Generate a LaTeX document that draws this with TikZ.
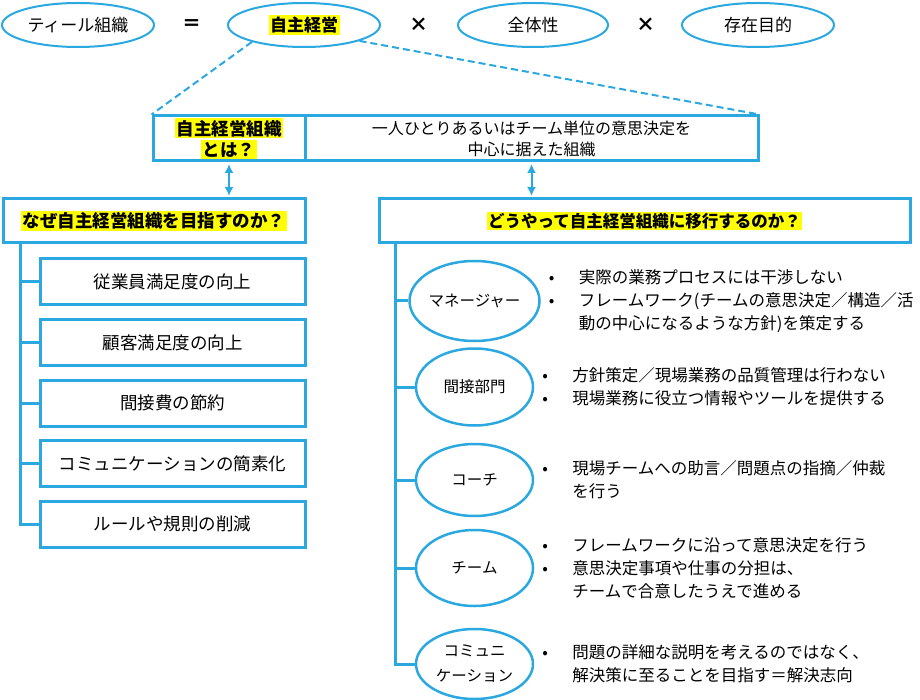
\documentclass[tikz,border=0pt]{standalone}
\usepackage{fontspec}
\setmainfont{Noto Sans CJK JP}
\usetikzlibrary{arrows.meta,shapes.geometric}
\definecolor{tealBlue}  {HTML}{2BA8E0}
\definecolor{markYellow}{HTML}{FFFF00}
\setlength{\fboxsep}{1.5pt}
\newcommand{\marker}[1]{\colorbox{markYellow}{\bfseries #1}}
\newcommand{\itm}[1]{\makebox[30pt][l]{•}#1}
\newcommand{\cont}[1]{\hspace*{30pt}#1}
\tikzset{
  oval/.style={ellipse,draw=tealBlue,line width=2pt,minimum width=152pt,minimum height=44pt,
    inner sep=0pt,font=\fontsize{17}{20}\selectfont},
  sign/.style={font=\fontsize{19}{20}\selectfont\bfseries},
  headbox/.style={rectangle,draw=tealBlue,line width=3pt,minimum height=44pt,inner sep=0pt,
    align=center,font=\fontsize{17.5}{21}\selectfont},
  whybox/.style={rectangle,draw=tealBlue,line width=3pt,minimum width=265pt,minimum height=46pt,
    inner sep=0pt,font=\fontsize{17.5}{21}\selectfont},
  role/.style={ellipse,draw=tealBlue,line width=2.5pt,minimum width=117pt,inner sep=0pt,
    align=center,font=\fontsize{15.5}{25}\selectfont},
  bullets/.style={anchor=west,inner sep=0pt,align=left,font=\fontsize{16.5}{23}\selectfont},
  trunk/.style={draw=tealBlue,line width=3pt},
  dashline/.style={draw=tealBlue,line width=2pt,dash pattern=on 7pt off 4pt},
  dblarrow/.style={{Latex[length=9pt,width=9pt]}-{Latex[length=9pt,width=9pt]},draw=tealBlue,
    line width=2pt,shorten <=1.5pt,shorten >=1.5pt},
}
\begin{document}
\begin{tikzpicture}[x=1pt,y=-1pt]
\useasboundingbox (0,0) rectangle (920,700);

\node[oval] (teal) at (78,25) {ティール組織};
\node[sign] (eq) at (192,25) {＝};
\node[oval] (jishu) at (304,25) {\marker{自主経営}};
\node[sign] (times1) at (419,25) {×};
\node[oval,minimum width=150pt] (zentai) at (533,25) {全体性};
\node[sign] (times2) at (646,25) {×};
\node[oval] (sonzai) at (758,25) {存在目的};

\node[headbox,minimum width=152pt,minimum height=45pt] (whatbox) at (229,138.5)
  {\marker{自主経営組織}\\\marker{とは？}};
\node[headbox,minimum width=453pt,minimum height=45pt,font=\fontsize{16}{21}\selectfont] (defbox) at (531.5,138.5)
  {一人ひとりあるいはチーム単位の意思決定を\\中心に据えた組織};

\draw[dashline] (jishu.198) -- (whatbox.north west);
\draw[dashline] (jishu.344) -- (defbox.north east);

\node[headbox,minimum width=302pt] (whyhead) at (154,221) {\marker{なぜ自主経営組織を目指すのか？}};
\node[headbox,minimum width=531pt,font=\fontsize{16.5}{21}\selectfont] (howhead) at (644.5,221)
  {\marker{どうやって自主経営組織に移行するのか？}};

\draw[dblarrow] (whatbox.south) -- (whatbox.south |- whyhead.north);
\draw[dblarrow] (defbox.south) -- (defbox.south |- howhead.north);

\node[whybox] (why1) at (172.5,282) {従業員満足度の向上};
\node[whybox] (why2) at (172.5,342.5) {顧客満足度の向上};
\node[whybox] (why3) at (172.5,403) {間接費の節約};
\node[whybox] (why4) at (172.5,463.5) {コミュニケーションの簡素化};
\node[whybox] (why5) at (172.5,524) {ルールや規則の削減};

\coordinate (whytrunk) at (20,243);
\draw[trunk] (whytrunk) |- (why5.west);
\foreach \n in {why1,why2,why3,why4}
  \draw[trunk] (\n.west) -- (\n.west -| whytrunk);

\node[role,minimum height=80pt] (manager) at (474.5,301) {マネージャー};
\node[role,minimum height=77pt] (indirect) at (474.5,387) {間接部門};
\node[role,minimum height=72pt] (coach) at (474.5,480) {コーチ};
\node[role,minimum height=76pt] (team) at (474.5,568) {チーム};
\node[role,minimum height=70pt] (comm) at (474.5,664) {コミュニ\\ケーション};

\coordinate (howtrunk) at (395,243);
\draw[trunk] (howtrunk) |- (comm.west);
\foreach \n in {manager,indirect,coach,team}
  \draw[trunk] (\n.west) -- (\n.west -| howtrunk);

\node[bullets] (managernote) at ([xshift=8pt]manager.east)
  {\itm{実際の業務プロセスには干渉しない}\\\itm{フレームワーク(チームの意思決定／構造／活}\\\cont{動の中心になるような方針)を策定する}};
\node[bullets] (indirectnote) at ([xshift=8pt]indirect.east)
  {\itm{方針策定／現場業務の品質管理は行わない}\\\itm{現場業務に役立つ情報やツールを提供する}};
\node[bullets] (coachnote) at ([xshift=8pt]coach.east)
  {\itm{現場チームへの助言／問題点の指摘／仲裁}\\\cont{を行う}};
\node[bullets] (teamnote) at ([xshift=8pt]team.east)
  {\itm{フレームワークに沿って意思決定を行う}\\\itm{意思決定事項や仕事の分担は、}\\\cont{チームで合意したうえで進める}};
\node[bullets] (commnote) at ([xshift=8pt]comm.east)
  {\itm{問題の詳細な説明を考えるのではなく、}\\\cont{解決策に至ることを目指す＝解決志向}};

\end{tikzpicture}
\end{document}
